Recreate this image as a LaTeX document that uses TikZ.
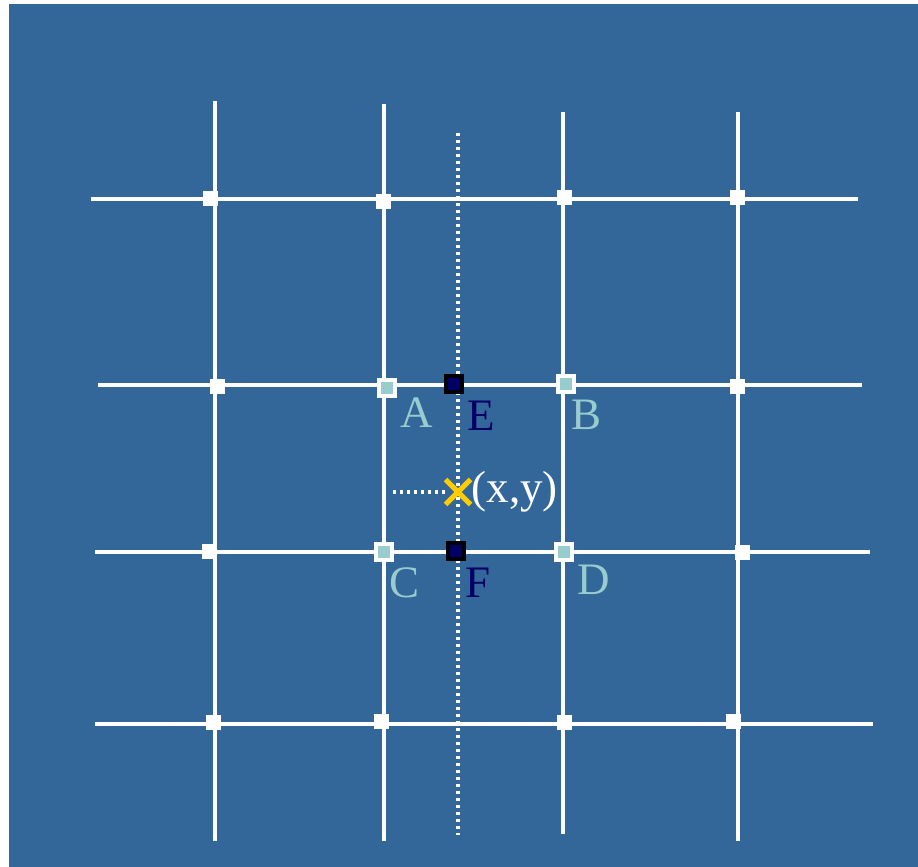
\documentclass[tikz,border=0pt]{standalone}
\usepackage{fontspec}
\setmainfont{Liberation Serif}
\usetikzlibrary{positioning,backgrounds,shapes.misc}
\definecolor{bgBlue}{HTML}{336699}
\definecolor{ptTeal}{HTML}{99CCCC}
\definecolor{ptNavy}{HTML}{000066}
\definecolor{ptGold}{HTML}{FFCC00}
\tikzset{
  gline/.style={draw=white,line width=3.5pt},
  dline/.style={draw=white,line width=3.5pt,dash pattern=on 3pt off 4pt},
  knot/.style={rectangle,fill=white,minimum size=15pt,inner sep=0pt},
  cornr/.style={rectangle,draw=white,fill=ptTeal,line width=3.5pt,minimum size=16pt,inner sep=0pt},
  interp/.style={rectangle,draw=black,fill=ptNavy,line width=3.5pt,minimum size=16pt,inner sep=0pt},
  target/.style={cross out,draw=ptGold,line width=5pt,minimum size=20pt,inner sep=0pt},
  lbl/.style={font=\fontsize{45}{45}\selectfont,inner sep=0pt},
}

\begin{document}
\begin{tikzpicture}[x=1pt,y=-1pt]
  \useasboundingbox (0,0) rectangle (918,867);
  % line ends
  \coordinate (v1t) at (215,101); \coordinate (v1b) at (215,841);
  \coordinate (v2t) at (384,104); \coordinate (v2b) at (384,841);
  \coordinate (v3t) at (563,112); \coordinate (v3b) at (563,834);
  \coordinate (v4t) at (738,112); \coordinate (v4b) at (738,841);
  \coordinate (h1l) at (91,199);  \coordinate (h1r) at (858,199);
  \coordinate (h2l) at (98,385);  \coordinate (h2r) at (862,385);
  \coordinate (h3l) at (95,552);  \coordinate (h3r) at (870,552);
  \coordinate (h4l) at (95,724);  \coordinate (h4r) at (873,724);
  \coordinate (mt) at (458,133);  \coordinate (mb) at (458,835);
  \coordinate (ml) at (393,492);

  % grid knots
  \node[knot] (k11) at (210,198) {};
  \node[knot] (k12) at (383,201) {};
  \node[knot] (k13) at (564,197) {};
  \node[knot] (k14) at (737,197) {};
  \node[knot] (k21) at (217,386) {};
  \node[knot] (k24) at (737,386) {};
  \node[knot] (k31) at (209,551) {};
  \node[knot] (k34) at (742,552) {};
  \node[knot] (k41) at (213,722) {};
  \node[knot] (k42) at (381,721) {};
  \node[knot] (k43) at (564,722) {};
  \node[knot] (k44) at (733,721) {};

  % the four neighbours and the two interpolated points
  \node[cornr] (A) at (387,388) {};
  \node[cornr] (B) at (566,384) {};
  \node[cornr] (C) at (384,552) {};
  \node[cornr] (D) at (564,552) {};
  \node[interp] (E) at (454,384) {};
  \node[interp] (F) at (456,551) {};
  \node[target] (X) at (458,492) {};

  \node[lbl,text=ptTeal] (lA) at (417,413) {A};
  \node[lbl,text=ptTeal] (lB) at (586,415) {B};
  \node[lbl,text=ptTeal] (lC) at (405,583) {C};
  \node[lbl,text=ptTeal] (lD) at (594,580) {D};
  \node[lbl,text=ptNavy] (lE) at (481,416) {E};
  \node[lbl,text=ptNavy] (lF) at (478,583) {F};
  \node[lbl,text=white,right=1pt of X] (lX) {(x,y)};

  \begin{scope}[on background layer]
    \fill[bgBlue] (9,4) rectangle (918,867);
    \draw[gline] (v1t) -- (v1b);
    \draw[gline] (v2t) -- (v2b);
    \draw[gline] (v3t) -- (v3b);
    \draw[gline] (v4t) -- (v4b);
    \draw[gline] (h1l) -- (h1r);
    \draw[gline] (h2l) -- (h2r);
    \draw[gline] (h3l) -- (h3r);
    \draw[gline] (h4l) -- (h4r);
    \draw[dline] (mt) -- (mb);
    \draw[dline] (ml) -- (X);
  \end{scope}
\end{tikzpicture}
\end{document}
